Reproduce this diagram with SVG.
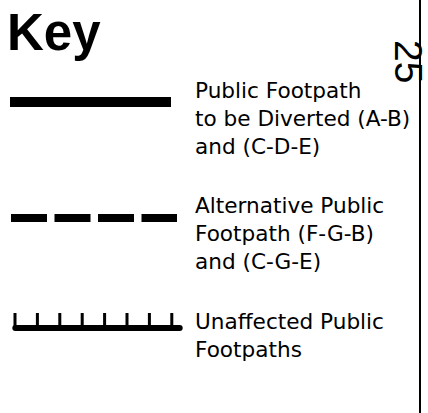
<svg xmlns="http://www.w3.org/2000/svg" width="428" height="413" viewBox="0 0 428 413">
  <style>
    .lbl { font-family: "DejaVu Sans", Verdana, sans-serif; font-size: 21.6px; fill: #000; }
    .title { font-family: "Liberation Sans", Arial, sans-serif; font-weight: bold; font-size: 51px; fill: #000; }
    .num { font-family: "Liberation Sans", Arial, sans-serif; font-size: 39px; fill: #000; }
  </style>
  <rect width="428" height="413" fill="#fff"/>
  <line x1="420" y1="0" x2="420" y2="413" stroke="#000" stroke-width="2"/>
  <text class="num" transform="translate(395,40) rotate(90)">25</text>
  <text class="title" x="7" y="50">Key</text>

  <g id="diverted">
    <rect x="10" y="97" width="161" height="10" fill="#000"/>
    <text class="lbl" x="195" y="98">Public Footpath</text>
    <text class="lbl" x="195" y="126">to be Diverted (A-B)</text>
    <text class="lbl" x="195" y="154">and (C-D-E)</text>
  </g>

  <g id="alternative">
    <line x1="11" y1="218" x2="177" y2="218" stroke="#000" stroke-width="8" stroke-dasharray="36 7.5"/>
    <text class="lbl" x="195" y="213">Alternative Public</text>
    <text class="lbl" x="195" y="241">Footpath (F-G-B)</text>
    <text class="lbl" x="195" y="269">and (C-G-E)</text>
  </g>

  <g id="unaffected">
    <line x1="15.3" y1="328" x2="179.7" y2="328" stroke="#000" stroke-width="6" stroke-linecap="round"/>
    <path d="M15 313V328M37.4 313V328M59.8 313V328M82.2 313V328M104.6 313V328M127 313V328M149.4 313V328M171.8 313V328" stroke="#000" stroke-width="3" fill="none"/>
    <text class="lbl" x="195" y="329">Unaffected Public</text>
    <text class="lbl" x="195" y="357">Footpaths</text>
  </g>
</svg>
